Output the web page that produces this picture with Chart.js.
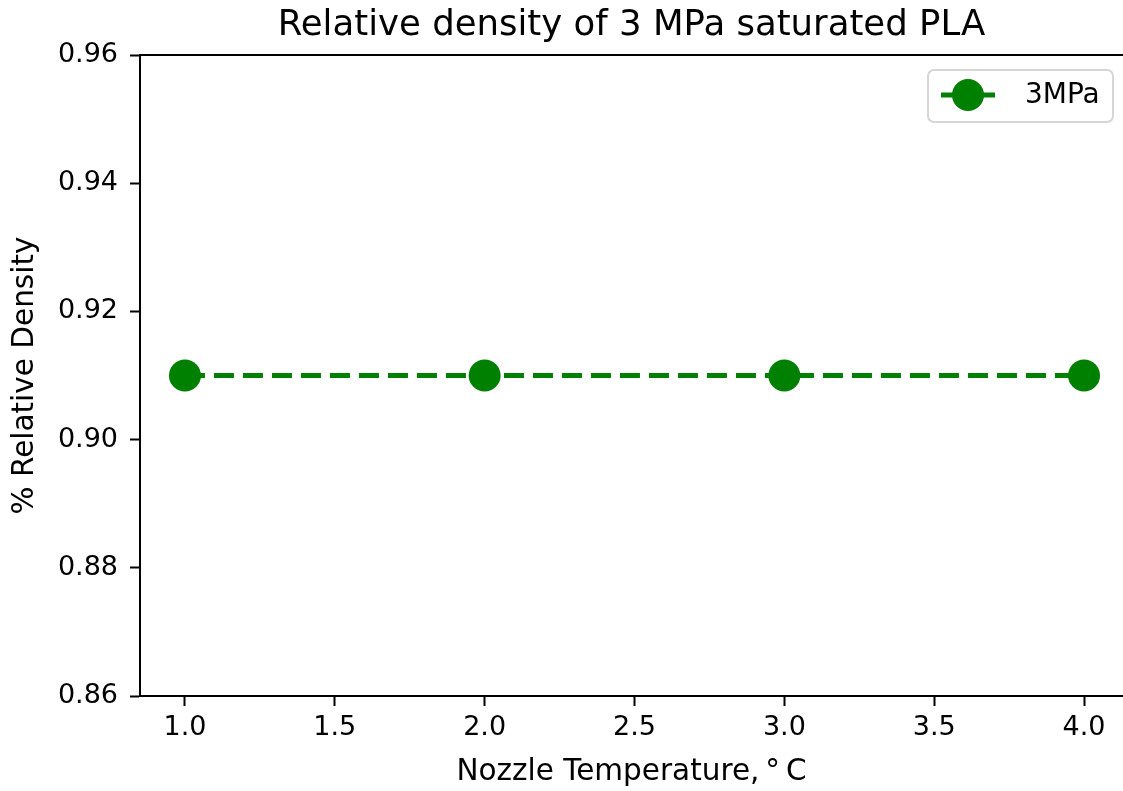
<!DOCTYPE html>
<html>
<head>
<meta charset="utf-8">
<script src="https://cdn.jsdelivr.net/npm/chart.js@4.4.1/dist/chart.umd.min.js"></script>
<style>
  html, body { margin: 0; padding: 0; background: #fff; overflow: hidden; }
  canvas { display: block; }
</style>
</head>
<body>
<canvas id="myChart" width="1123" height="791"></canvas>
<script>
// data
let xValues = [1.0, 2.0, 3.0, 4.0];
let density3MPa = [0.91, 0.91, 0.91, 0.91];
let xTicks = [1.0, 1.5, 2.0, 2.5, 3.0, 3.5, 4.0];
let yTicks = [0.86, 0.88, 0.90, 0.92, 0.94, 0.96];
let seriesName = '3MPa';
let green = '#008000';

let font = "'DejaVu Sans', sans-serif";

// top frame line and the boxed legend inside the axes
let framePlugin = {
  id: 'frame',
  afterDraw(chart) {
    let ctx = chart.ctx;
    let a = chart.chartArea;
    ctx.save();
    ctx.strokeStyle = '#000';
    ctx.lineWidth = 2;
    ctx.beginPath();
    ctx.moveTo(a.left, a.top);
    ctx.lineTo(a.right, a.top);
    ctx.stroke();

    // legend (axes box runs past the picture edge, so place from its real right side)
    let axRight = a.left + 989;
    let w = 185, h = 52;
    let x = axRight - 16 - w;
    let y = a.top + 15;
    ctx.beginPath();
    ctx.roundRect(x, y, w, h, 6);
    ctx.fillStyle = 'rgba(255,255,255,0.8)';
    ctx.fill();
    ctx.strokeStyle = '#d6d6d6';
    ctx.lineWidth = 2;
    ctx.stroke();

    let cy = y + 25;
    ctx.strokeStyle = green;
    ctx.lineWidth = 5;
    ctx.beginPath();
    ctx.moveTo(x + 13, cy);
    ctx.lineTo(x + 67, cy);
    ctx.stroke();
    ctx.beginPath();
    ctx.arc(x + 40, cy, 16, 0, Math.PI * 2);
    ctx.fillStyle = green;
    ctx.fill();

    ctx.fillStyle = '#000';
    ctx.font = '28px ' + font;
    ctx.textBaseline = 'middle';
    ctx.textAlign = 'left';
    ctx.fillText(seriesName, x + 97, cy + 1);
    ctx.restore();
  }
};

let myChart = document.getElementById('myChart').getContext('2d');
let lineChart = new Chart(myChart, {
  type: 'line',
  data: {
    datasets: [{
      label: seriesName,
      data: xValues.map((x, i) => ({ x: x, y: density3MPa[i] })),
      borderColor: green,
      backgroundColor: green,
      borderWidth: 5,
      borderDash: [20, 9],
      pointRadius: 16,
      pointHoverRadius: 16,
      pointBorderWidth: 0,
      pointBackgroundColor: green,
      tension: 0
    }]
  },
  options: {
    responsive: false,
    devicePixelRatio: 1,
    animation: false,
    layout: { padding: 0, autoPadding: false },
    plugins: {
      legend: { display: false },
      tooltip: { enabled: false },
      title: {
        display: true,
        fullSize: false,
        text: 'Relative density of 3 MPa saturated PLA',
        color: '#000',
        font: { family: font, size: 35.5, weight: 'normal' },
        padding: { top: 4, bottom: 8.4 }
      }
    },
    scales: {
      x: {
        type: 'linear',
        min: 0.85,
        max: 4.13,
        afterBuildTicks: (scale) => { scale.ticks = xTicks.map(v => ({ value: v })); },
        afterFit: (scale) => {
          scale.height = 95;
          scale.paddingLeft = 0;
          scale.paddingRight = 0;
        },
        grid: { drawOnChartArea: false, drawTicks: true, tickLength: 10, tickWidth: 2, color: '#000' },
        border: { display: true, color: '#000', width: 2 },
        ticks: {
          color: '#000',
          padding: 6,
          maxRotation: 0,
          font: { family: font, size: 27 },
          callback: (v) => Number(v).toFixed(1)
        },
        title: {
          display: true,
          text: 'Nozzle Temperature,\u2009\u00b0\u2009C',
          color: '#000',
          font: { family: font, size: 29.5 },
          padding: { top: 0, bottom: 1.3 }
        }
      },
      y: {
        type: 'linear',
        min: 0.86,
        max: 0.96,
        afterBuildTicks: (scale) => { scale.ticks = yTicks.map(v => ({ value: v })); },
        afterFit: (scale) => { scale.width = 140; },
        grid: { drawOnChartArea: false, drawTicks: true, tickLength: 10, tickWidth: 2, color: '#000' },
        border: { display: true, color: '#000', width: 2 },
        ticks: {
          color: '#000',
          padding: 12,
          font: { family: font, size: 27 },
          callback: (v) => Number(v).toFixed(2)
        },
        title: {
          display: true,
          text: '% Relative Density',
          color: '#000',
          font: { family: font, size: 29.5 },
          padding: { top: 7.3, bottom: 0 }
        }
      }
    }
  },
  plugins: [framePlugin]
});
</script>
</body>
</html>
